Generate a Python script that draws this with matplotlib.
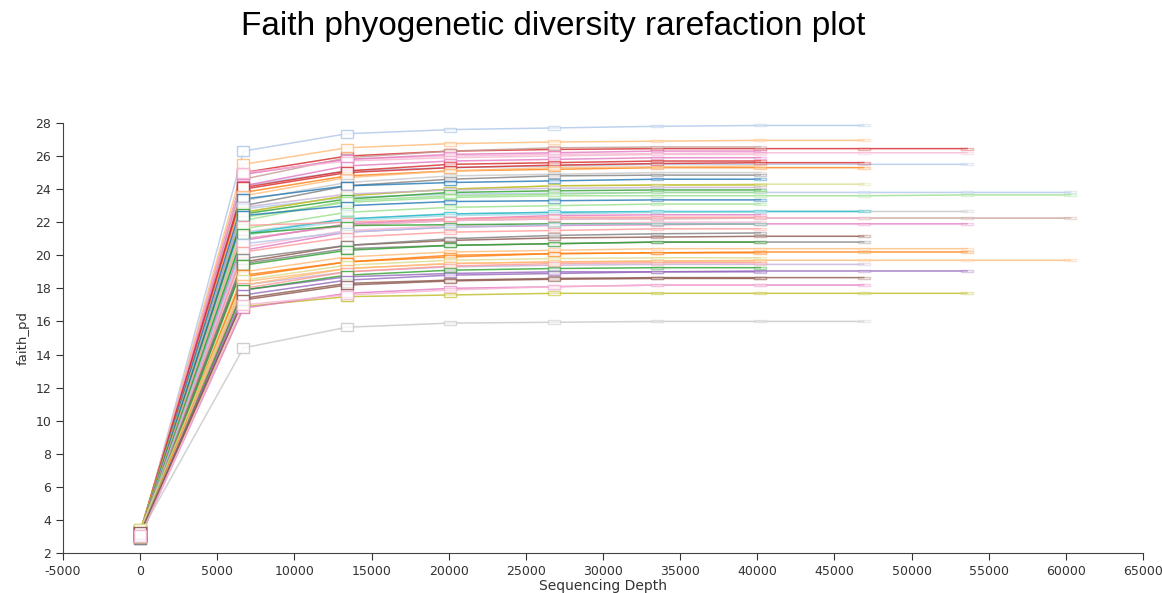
"""Faith PD rarefaction plot"""
import matplotlib
matplotlib.use('Agg')
import matplotlib.pyplot as plt

plt.rcParams['axes.unicode_minus'] = False

depths = [10, 6700, 13400, 20100, 26800, 33500, 40200, 46900, 53600, 60300]

# samples reaching 60300 reads
pd_60k = [
    [3.1, 22.8, 23.5, 23.7, 23.75, 23.8, 23.8, 23.8, 23.8, 23.8],
    [3.0, 22.3, 23.2, 23.5, 23.6, 23.6, 23.6, 23.6, 23.65, 23.65],
    [3.2, 21.0, 21.8, 22.1, 22.2, 22.2, 22.25, 22.25, 22.25, 22.25],
    [3.0, 18.4, 19.2, 19.5, 19.6, 19.65, 19.7, 19.7, 19.7, 19.7],
]
colors_60k = ['#aec7e8', '#98df8a', '#c49c94', '#ffbb78']

# samples reaching 53600 reads
pd_53k = [
    [3.2, 25.0, 26.0, 26.3, 26.4, 26.45, 26.45, 26.45, 26.45],
    [3.0, 24.9, 25.8, 26.0, 26.1, 26.15, 26.2, 26.2, 26.2],
    [3.1, 24.2, 25.1, 25.3, 25.4, 25.5, 25.5, 25.5, 25.5],
    [3.0, 21.4, 22.2, 22.5, 22.6, 22.6, 22.65, 22.65, 22.65],
    [3.2, 20.3, 21.4, 21.7, 21.8, 21.85, 21.9, 21.9, 21.9],
    [3.0, 19.0, 19.9, 20.2, 20.3, 20.4, 20.4, 20.4, 20.4],
    [3.1, 18.7, 19.6, 20.0, 20.1, 20.15, 20.2, 20.2, 20.2],
    [2.9, 17.9, 18.7, 18.9, 19.0, 19.0, 19.05, 19.05, 19.05],
    [3.3, 16.9, 17.5, 17.6, 17.7, 17.7, 17.7, 17.7, 17.7],
]
colors_53k = ['#d62728', '#f7b6d2', '#aec7e8', '#c7c7c7', '#e377c2',
              '#ffbb78', '#ff7f0e', '#9467bd', '#bcbd22']

# samples reaching 46900 reads
pd_46k = [
    [3.0, 26.3, 27.35, 27.6, 27.7, 27.8, 27.85, 27.85],
    [3.1, 25.5, 26.5, 26.75, 26.85, 26.9, 26.95, 26.95],
    [3.2, 24.0, 25.0, 25.3, 25.45, 25.55, 25.6, 25.6],
    [3.0, 23.8, 24.8, 25.1, 25.2, 25.3, 25.3, 25.3],
    [3.3, 22.6, 23.6, 24.0, 24.2, 24.25, 24.3, 24.3],
    [3.0, 21.3, 22.2, 22.5, 22.6, 22.65, 22.65, 22.65],
    [3.1, 21.0, 21.8, 22.1, 22.2, 22.25, 22.25, 22.25],
    [3.2, 19.6, 20.6, 20.9, 21.05, 21.1, 21.15, 21.15],
    [3.0, 19.5, 20.4, 20.6, 20.7, 20.8, 20.8, 20.8],
    [3.0, 18.2, 19.0, 19.3, 19.4, 19.45, 19.45, 19.45],
    [3.1, 17.4, 18.3, 18.5, 18.6, 18.65, 18.65, 18.65],
    [3.0, 16.8, 17.7, 18.0, 18.1, 18.2, 18.2, 18.2],
    [3.2, 14.4, 15.65, 15.9, 15.95, 16.0, 16.0, 16.0],
]
colors_46k = ['#aec7e8', '#ffbb78', '#d62728', '#ff7f0e', '#dbdb8d',
              '#17becf', '#f7b6d2', '#8c564b', '#7f7f7f', '#c5b0d5',
              '#8c564b', '#e377c2', '#c7c7c7']

# samples reaching 40200 reads
pd_40k = [
    [3.1, 24.6, 25.9, 26.3, 26.5, 26.55, 26.55],
    [3.0, 24.9, 25.8, 26.1, 26.2, 26.3, 26.3],
    [3.2, 25.0, 25.7, 25.9, 26.0, 26.1, 26.1],
    [3.0, 24.2, 25.4, 25.7, 25.8, 25.9, 25.9],
    [3.3, 24.1, 25.1, 25.5, 25.6, 25.7, 25.7],
    [3.0, 23.6, 24.7, 25.1, 25.3, 25.35, 25.4],
    [3.1, 23.3, 24.4, 24.8, 24.9, 25.0, 25.0],
    [2.9, 23.0, 24.2, 24.6, 24.8, 24.85, 24.85],
    [3.2, 23.4, 24.2, 24.4, 24.5, 24.6, 24.6],
    [3.4, 22.6, 23.6, 24.0, 24.2, 24.25, 24.25],
    [3.0, 22.9, 23.7, 23.95, 24.05, 24.1, 24.1],
    [3.1, 22.5, 23.4, 23.8, 23.9, 23.95, 23.95],
    [3.0, 22.1, 23.3, 23.6, 23.7, 23.8, 23.8],
    [3.2, 22.4, 23.0, 23.25, 23.3, 23.35, 23.35],
    [3.0, 21.6, 22.6, 22.9, 23.0, 23.1, 23.1],
    [3.1, 21.2, 22.1, 22.4, 22.5, 22.6, 22.6],
    [3.0, 20.9, 21.9, 22.2, 22.4, 22.45, 22.45],
    [3.2, 21.8, 22.0, 22.2, 22.3, 22.3, 22.3],
    [3.0, 20.5, 21.5, 21.8, 21.9, 22.0, 22.0],
    [3.1, 21.3, 21.8, 21.85, 21.9, 21.9, 21.9],
    [3.1, 20.7, 21.4, 21.7, 21.85, 21.9, 21.9],
    [3.0, 20.2, 21.1, 21.4, 21.5, 21.6, 21.6],
    [3.1, 19.8, 20.6, 21.0, 21.2, 21.3, 21.35],
    [3.0, 19.4, 20.3, 20.6, 20.7, 20.8, 20.8],
    [3.0, 18.8, 19.6, 19.9, 20.1, 20.15, 20.15],
    [3.4, 18.5, 19.4, 19.7, 19.8, 19.85, 19.85],
    [3.0, 18.2, 19.2, 19.5, 19.6, 19.65, 19.65],
    [3.1, 18.0, 19.0, 19.35, 19.5, 19.55, 19.55],
    [3.0, 17.9, 18.8, 19.1, 19.2, 19.25, 19.25],
    [3.1, 17.6, 18.5, 18.8, 18.9, 19.0, 19.0],
    [3.2, 17.3, 18.2, 18.45, 18.55, 18.6, 18.6],
    [3.0, 17.0, 17.6, 17.9, 18.1, 18.2, 18.2],
]
colors_40k = ['#c49c94', '#e377c2', '#f7b6d2', '#e377c2', '#d62728',
              '#ffbb78', '#c7c7c7', '#7f7f7f', '#1f77b4', '#bcbd22',
              '#c5b0d5', '#2ca02c', '#98df8a', '#1f77b4', '#98df8a',
              '#9edae5', '#e377c2', '#ff9896', '#f7b6d2', '#2ca02c',
              '#aec7e8', '#ff9896', '#7f7f7f', '#2ca02c', '#ff7f0e',
              '#dbdb8d', '#ffbb78', '#ff9896', '#2ca02c', '#9467bd',
              '#8c564b', '#f7b6d2']

# box height (relative to width) and opacity at each depth;
# the boxes flatten and fade as depth grows
box_h = [0.9, 0.8, 0.6, 0.35, 0.25, 0.18, 0.15, 0.15, 0.15, 0.15]
box_a = [0.9, 0.85, 0.8, 0.65, 0.55, 0.45, 0.4, 0.35, 0.35, 0.35]


def box_marker(h):
    return [(-1, -h), (1, -h), (1, h), (-1, h), (-1, -h)]


def draw_group(ax, group, colors):
    for vals, c in zip(group, colors):
        x = depths[:len(vals)]
        ax.plot(x, vals, color=c, lw=1.1, alpha=0.8, zorder=2)
        for i, (xi, yi) in enumerate(zip(x, vals)):
            ax.plot(xi, yi, marker=box_marker(box_h[i]), ms=9, mfc='white',
                    mec=c, mew=1.0, alpha=box_a[i], zorder=3)


fig = plt.figure(figsize=(11.62, 5.93), dpi=100)
ax = fig.add_axes([0.0542, 0.0675, 0.9294, 0.7251])

draw_group(ax, pd_60k, colors_60k)
draw_group(ax, pd_53k, colors_53k)
draw_group(ax, pd_46k, colors_46k)
draw_group(ax, pd_40k, colors_40k)

ax.set_xlim(-5000, 65000)
ax.set_ylim(2, 28)
ax.set_xticks(range(-5000, 65001, 5000))
ax.set_yticks(range(2, 29, 2))
ax.tick_params(labelsize=9, colors='#333333', length=5)
for s in ['top', 'right']:
    ax.spines[s].set_visible(False)
for s in ['left', 'bottom']:
    ax.spines[s].set_color('#444444')
ax.set_xlabel('Sequencing Depth', fontsize=10, color='#333333', labelpad=1)
ax.set_ylabel('faith_pd', fontsize=9.5, color='#333333')

fig.text(0.476, 0.955, 'Faith phyogenetic diversity rarefaction plot',
         ha='center', va='center', fontsize=24, family='Liberation Sans')

fig.savefig('out.png', dpi=100)
